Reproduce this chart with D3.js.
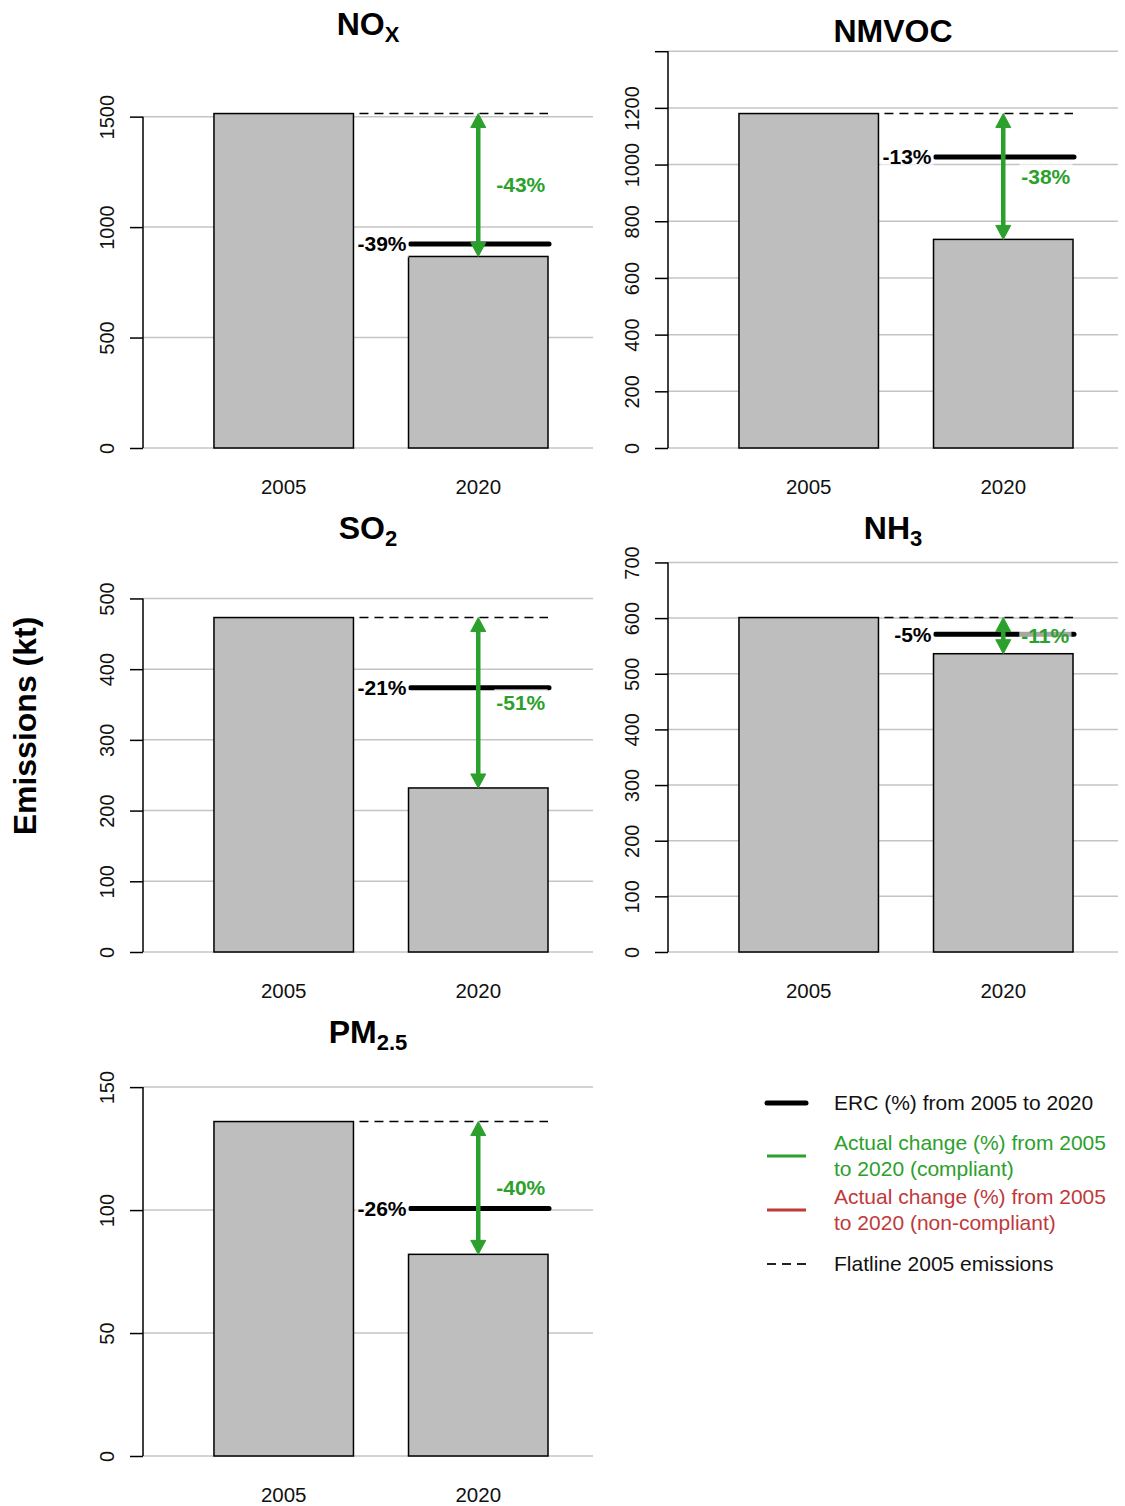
<!DOCTYPE html>
<html lang="en">
<head>
<meta charset="utf-8">
<title>Emissions 2005 vs 2020</title>
<script src="https://cdnjs.cloudflare.com/ajax/libs/d3/7.8.5/d3.min.js"></script>
<style>
  body { margin: 0; background: #fff; }
  svg text { font-family: "Liberation Sans", Arial, sans-serif; }
</style>
</head>
<body>
<script>
// values (kt)
const pollutants = ["NOx", "NMVOC", "SO2", "NH3", "PM2.5"];
const titleMain = ["NO", "NMVOC", "SO", "NH", "PM"];
const titleSub = ["X", "", "2", "3", "2.5"];
const years = ["2005", "2020"];
const em2005 = [1514, 1180, 473, 601, 136];
const em2020 = [867, 736, 232, 536, 82];
const ercPct = [-39, -13, -21, -5, -26];
const actualPct = [-43, -38, -51, -11, -40];
const yTicks = [
  [0, 500, 1000, 1500],
  [0, 200, 400, 600, 800, 1000, 1200, 1400],
  [0, 100, 200, 300, 400, 500],
  [0, 100, 200, 300, 400, 500, 600, 700],
  [0, 50, 100, 150]
];
const hiddenTickLabels = [[], [1400], [], [], []];
const legendText = [
  ["ERC (%) from 2005 to 2020"],
  ["Actual change (%) from 2005", "to 2020 (compliant)"],
  ["Actual change (%) from 2005", "to 2020 (non-compliant)"],
  ["Flatline 2005 emissions"]
];

const w = 1125, h = 1506;
const colX = [143, 668], plotW = 450;
const rowZero = [448, 952, 1456], plotH = 398;
const green = "#2ca02c", red = "#c0393b", grid = "#c4c4c4";

const svg = d3.select("body").append("svg")
  .attr("width", w).attr("height", h);

// translucent white box behind a text node
function backBox(g, t) {
  const b = t.node().getBBox();
  g.insert("rect", () => t.node())
    .attr("x", b.x - 2).attr("y", b.y - 2)
    .attr("width", b.width + 4).attr("height", b.height + 4)
    .attr("fill", "white").attr("opacity", 0.65);
}

pollutants.forEach(function(p, i) {
  const left = colX[i % 2];
  const zero = rowZero[Math.floor(i / 2)];
  const g = svg.append("g");

  const x = d3.scaleBand().domain(years)
    .range([left, left + plotW])
    .paddingInner(0.283).paddingOuter(0.298).align(0.612);
  const y = d3.scaleLinear().domain([0, em2005[i] * 1.19])
    .range([zero, zero - plotH]);

  // grid
  g.selectAll(".grid").data(yTicks[i]).enter().append("line")
    .attr("x1", left).attr("x2", left + plotW)
    .attr("y1", d => y(d)).attr("y2", d => y(d))
    .attr("stroke", grid).attr("stroke-width", 1.5);

  // axis
  const ax = g.append("g").attr("transform", "translate(" + left + ",0)")
    .call(d3.axisLeft(y).tickValues(yTicks[i]).tickSize(13).tickSizeOuter(0)
      .tickFormat(d => hiddenTickLabels[i].includes(d) ? "" : d));
  ax.select(".domain").remove();
  ax.selectAll(".tick line").attr("stroke", "black").attr("stroke-width", 1.5);
  ax.selectAll(".tick text")
    .attr("transform", "rotate(-90)")
    .attr("x", 0).attr("y", -29).attr("dy", 0)
    .attr("text-anchor", "middle")
    .attr("font-size", "20px").attr("fill", "#111");
  ax.append("line")
    .attr("x1", 0).attr("x2", 0)
    .attr("y1", y(0)).attr("y2", y(d3.max(yTicks[i])))
    .attr("stroke", "black").attr("stroke-width", 1.5);

  // bars
  const vals = [em2005[i], em2020[i]];
  g.selectAll(".bar").data(years).enter().append("rect")
    .attr("x", d => x(d)).attr("width", x.bandwidth())
    .attr("y", (d, k) => y(vals[k])).attr("height", (d, k) => y(0) - y(vals[k]))
    .attr("fill", "#bebebe").attr("stroke", "black").attr("stroke-width", 1.5);

  // year labels
  g.selectAll(".yr").data(years).enter().append("text")
    .attr("x", d => x(d) + x.bandwidth() / 2).attr("y", zero + 46)
    .attr("text-anchor", "middle").attr("font-size", "20.5px").attr("fill", "#111")
    .text(d => d);

  // flatline
  g.append("line")
    .attr("x1", x("2005") + x.bandwidth() + 6).attr("x2", x("2020") + x.bandwidth())
    .attr("y1", y(em2005[i])).attr("y2", y(em2005[i]))
    .attr("stroke", "black").attr("stroke-width", 1.5).attr("stroke-dasharray", "9,6");

  // ERC line + label
  const ercVal = em2005[i] * (1 + ercPct[i] / 100);
  g.append("line")
    .attr("x1", x("2020") + 2).attr("x2", x("2020") + x.bandwidth() + 1)
    .attr("y1", y(ercVal)).attr("y2", y(ercVal))
    .attr("stroke", "black").attr("stroke-width", 5).attr("stroke-linecap", "round");
  const ercLab = g.append("text")
    .attr("x", x("2020") - 2).attr("y", y(ercVal)).attr("dy", "0.35em")
    .attr("text-anchor", "end").attr("font-size", "21px").attr("font-weight", "bold")
    .text(ercPct[i] + "%");
  backBox(g, ercLab);

  // actual change arrow
  const col = actualPct[i] <= ercPct[i] ? green : red;
  const ax0 = x("2020") + x.bandwidth() / 2;
  const yTop = y(em2005[i]), yBot = y(em2020[i]);
  const hl = 14, hw = 7.5;
  g.append("line")
    .attr("x1", ax0).attr("x2", ax0)
    .attr("y1", yTop + hl - 1).attr("y2", yBot - hl + 1)
    .attr("stroke", col).attr("stroke-width", 4.5);
  g.append("path")
    .attr("d", d3.line()([[ax0, yTop], [ax0 - hw, yTop + hl], [ax0 + hw, yTop + hl]]) + "Z")
    .attr("fill", col).attr("stroke", col).attr("stroke-linejoin", "round");
  g.append("path")
    .attr("d", d3.line()([[ax0, yBot], [ax0 - hw, yBot - hl], [ax0 + hw, yBot - hl]]) + "Z")
    .attr("fill", col).attr("stroke", col).attr("stroke-linejoin", "round");
  const actLab = g.append("text")
    .attr("x", ax0 + 18).attr("y", (yTop + yBot) / 2).attr("dy", "0.35em")
    .attr("font-size", "21px").attr("font-weight", "bold").attr("fill", col)
    .text(actualPct[i] + "%");
  backBox(g, actLab);

  // title
  const sub = titleSub[i] !== "";
  const tt = g.append("text")
    .attr("x", left + plotW / 2)
    .attr("y", zero - 448 + (sub ? 35 : 42))
    .attr("text-anchor", "middle").attr("font-weight", "bold").attr("font-size", "32px");
  tt.append("tspan").text(titleMain[i]);
  if (sub) {
    tt.append("tspan").attr("font-size", "22px").attr("dy", 7).text(titleSub[i]);
  }
});

// y axis title
svg.append("text")
  .attr("transform", "translate(36,726) rotate(-90)")
  .attr("text-anchor", "middle").attr("font-size", "32px").attr("font-weight", "bold")
  .text("Emissions (kt)");

// legend
const legY = [1103, 1156, 1210, 1264];
const legColor = ["black", green, red, "#222"];
const legWidth = [5, 3, 3, 2];
const legDash = [null, null, null, "9,6"];
const leg = svg.append("g");
legendText.forEach(function(lines, k) {
  leg.append("line")
    .attr("x1", 767).attr("x2", 806)
    .attr("y1", legY[k]).attr("y2", legY[k])
    .attr("stroke", legColor[k]).attr("stroke-width", legWidth[k])
    .attr("stroke-linecap", k === 0 ? "round" : "butt")
    .attr("stroke-dasharray", legDash[k]);
  const off = (lines.length - 1) * 13;
  lines.forEach(function(s, j) {
    leg.append("text")
      .attr("x", 834).attr("y", legY[k] - off + j * 26).attr("dy", "0.35em")
      .attr("font-size", "21px")
      .attr("fill", k === 1 ? green : k === 2 ? red : "#111")
      .text(s);
  });
});
</script>
</body>
</html>
